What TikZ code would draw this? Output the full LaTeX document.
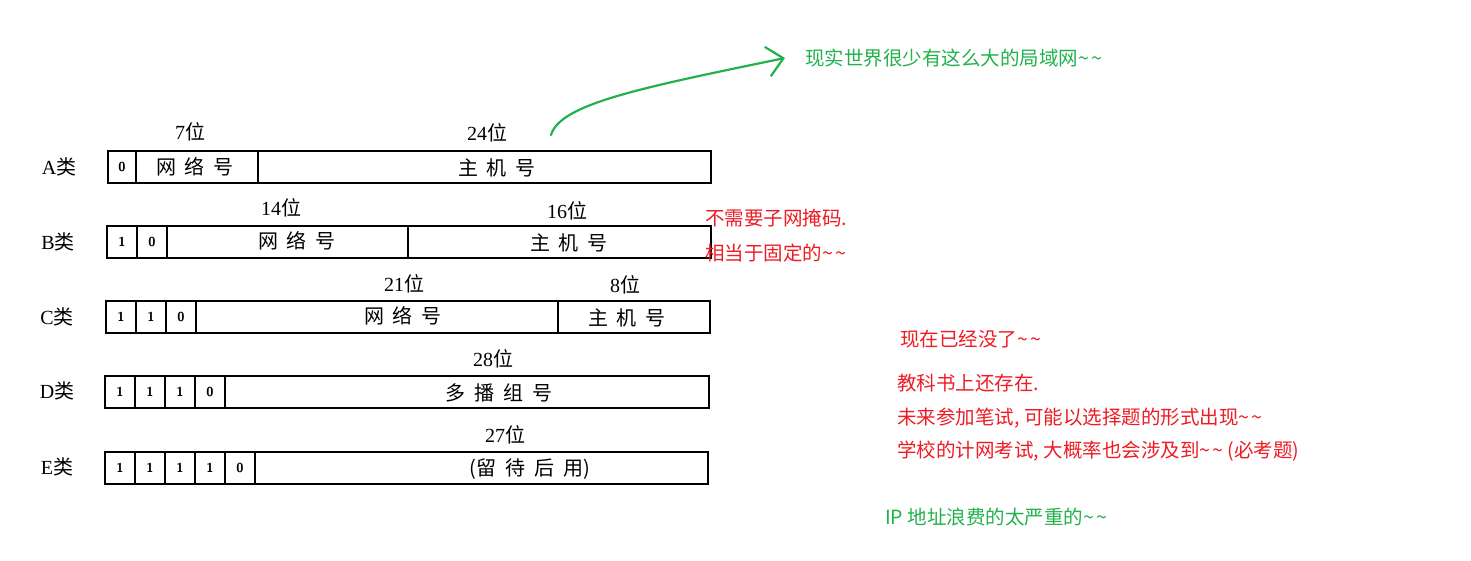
\documentclass[tikz,border=0pt]{standalone}
\usepackage{fontspec}
\setmainfont{Liberation Serif}
\newfontfamily\cjk{Noto Sans CJK SC}
\usetikzlibrary{positioning, arrows.meta}

\definecolor{notegreen}{RGB}{34,177,76}
\definecolor{notered}{RGB}{237,28,36}
\newcommand{\wei}{{\cjk 位}}
\newcommand{\lei}{{\cjk 类}}
\newcommand{\gap}{\hspace{0.45em}}
\newcommand{\tld}{\textasciitilde\hspace{0.12em}\textasciitilde}

\begin{document}
\begin{tikzpicture}[
    x=1pt, y=-1pt,
    font=\fontsize{17}{20}\selectfont,
    field/.style={
        rectangle, draw=black, line width=1.6pt, minimum height=32pt,
        inner sep=0pt, outer sep=0pt, anchor=west
    },
    bitcell/.style={
        field, minimum width=30pt, font=\fontsize{13}{15}\selectfont\sffamily\bfseries
    },
    fieldtext/.style={font=\fontsize{20}{22}\selectfont\cjk, inner sep=0pt},
    bitcount/.style={font=\fontsize{20}{22}\selectfont, inner sep=0pt},
    classname/.style={font=\fontsize{20}{22}\selectfont, inner sep=0pt},
    note/.style={anchor=west, font=\fontsize{19.5}{22}\selectfont\cjk, inner sep=0pt},
    greennote/.style={note, text=notegreen},
    rednote/.style={note, text=notered},
    greenarrow/.style={
        draw=notegreen, line width=2.2pt, line cap=round,
        -{Straight Barb[length=16pt, width=30pt, line width=2.2pt]}
    }
]
    \path[use as bounding box] (0,0) rectangle (1471,561);

    % =========================================================================
    % A CLASS
    % =========================================================================
    \node [classname] (a_cls) at (59,167) {A\lei};
    \node [bitcell, minimum width=28pt] (a_b1) at (108,167) {0};
    \node [field, minimum width=122pt, right=0pt of a_b1] (a_net) {};
    \node [field, minimum width=453pt, right=0pt of a_net] (a_host) {};
    \node [fieldtext] (a_net_txt) at (195,167) {网\gap 络\gap 号};
    \node [fieldtext] (a_host_txt) at (497,168) {主\gap 机\gap 号};
    \node [bitcount] (a_net_bits) at (190,132) {7\wei};
    \node [bitcount] (a_host_bits) at (487,133) {24\wei};

    % =========================================================================
    % B CLASS
    % =========================================================================
    \node [classname] (b_cls) at (58,242) {B\lei};
    \node [bitcell] (b_b1) at (107,242) {1};
    \node [bitcell, right=0pt of b_b1] (b_b2) {0};
    \node [field, minimum width=241pt, right=0pt of b_b2] (b_net) {};
    \node [field, minimum width=303pt, right=0pt of b_net] (b_host) {};
    \node [fieldtext] (b_net_txt) at (297,241) {网\gap 络\gap 号};
    \node [fieldtext] (b_host_txt) at (569,243) {主\gap 机\gap 号};
    \node [bitcount] (b_net_bits) at (281,208) {14\wei};
    \node [bitcount] (b_host_bits) at (567,211) {16\wei};

    % =========================================================================
    % C CLASS
    % =========================================================================
    \node [classname] (c_cls) at (57,317) {C\lei};
    \node [bitcell] (c_b1) at (106,317) {1};
    \node [bitcell, right=0pt of c_b1] (c_b2) {1};
    \node [bitcell, right=0pt of c_b2] (c_b3) {0};
    \node [field, minimum width=362pt, right=0pt of c_b3] (c_net) {};
    \node [field, minimum width=152pt, right=0pt of c_net] (c_host) {};
    \node [fieldtext] (c_net_txt) at (403,316) {网\gap 络\gap 号};
    \node [fieldtext] (c_host_txt) at (627,318) {主\gap 机\gap 号};
    \node [bitcount] (c_net_bits) at (404,284) {21\wei};
    \node [bitcount] (c_host_bits) at (625,285) {8\wei};

    % =========================================================================
    % D CLASS
    % =========================================================================
    \node [classname] (d_cls) at (57,391) {D\lei};
    \node [bitcell] (d_b1) at (105,392) {1};
    \node [bitcell, right=0pt of d_b1] (d_b2) {1};
    \node [bitcell, right=0pt of d_b2] (d_b3) {1};
    \node [bitcell, right=0pt of d_b3] (d_b4) {0};
    \node [field, minimum width=484pt, right=0pt of d_b4] (d_group) {};
    \node [fieldtext] (d_group_txt) at (499,393) {多\gap 播\gap 组\gap 号};
    \node [bitcount] (d_group_bits) at (493,359) {28\wei};

    % =========================================================================
    % E CLASS
    % =========================================================================
    \node [classname] (e_cls) at (57,467) {E\lei};
    \node [bitcell] (e_b1) at (105,468) {1};
    \node [bitcell, right=0pt of e_b1] (e_b2) {1};
    \node [bitcell, right=0pt of e_b2] (e_b3) {1};
    \node [bitcell, right=0pt of e_b3] (e_b4) {1};
    \node [bitcell, right=0pt of e_b4] (e_b5) {0};
    \node [field, minimum width=453pt, right=0pt of e_b5] (e_rsv) {};
    \node [fieldtext] (e_rsv_txt) at (530,469) {(留\gap 待\gap 后\gap 用)};
    \node [bitcount] (e_rsv_bits) at (505,435) {27\wei};

    % =========================================================================
    % NOTES
    % =========================================================================
    \node [greennote] (note_lan) at (805,58) {现实世界很少有这么大的局域网\tld};
    \node [rednote] (note_mask1) at (705,218) {不需要子网掩码.};
    \node [rednote] (note_mask2) at (705,253) {相当于固定的\tld};
    \node [rednote] (note_gone) at (900,339) {现在已经没了\tld};
    \node [rednote] (note_book1) at (897,383) {教科书上还存在.};
    \node [rednote] (note_book2) at (897,418) {未来参加笔试, 可能以选择题的形式出现\tld};
    \node [rednote] (note_book3) at (897,451) {学校的计网考试, 大概率也会涉及到\tld{} (必考题)};
    \node [greennote] (note_waste) at (885,517) {IP 地址浪费的太严重的\tld};

    % 24 bits of host -> remark
    \coordinate (lan_from) at (551,135);
    \draw [greenarrow] (lan_from) .. controls (560,104) and (640,88) .. ([xshift=-20pt]note_lan.west);

\end{tikzpicture}
\end{document}
